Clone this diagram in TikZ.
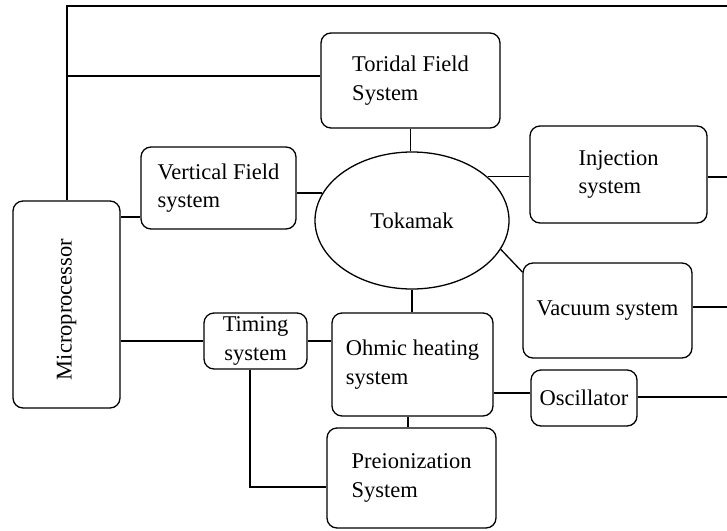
\documentclass[tikz,border=0pt]{standalone}
\usepackage{fontspec}
\setmainfont{Liberation Serif}
\usetikzlibrary{shapes.geometric}
\begin{document}
\begin{tikzpicture}[x=1pt,y=-1pt,
  line width=1.3pt,
  font=\fontsize{22.5}{28.5}\selectfont,
  box/.style={draw, rounded corners=10pt, inner sep=0pt, align=left},
  cbox/.style={draw, rounded corners=10pt, inner sep=0pt, align=center}]
\useasboundingbox (0,0) rectangle (727,530);
% boxes
\node[box, minimum width=179pt, minimum height=95pt] (tor) at (410.5,80.5) {Toridal Field\\System};
\node[box, minimum width=155pt, minimum height=82pt] (vf) at (218.5,188) {Vertical Field\\system};
\node[box, minimum width=177pt, minimum height=97pt] (inj) at (618.5,174.5) {Injection\\system};
\node[box, minimum width=169pt, minimum height=95pt] (vac) at (607.5,310.5) {Vacuum system};
\node[cbox, minimum width=103pt, minimum height=56pt] (tim) at (255.5,341) {Timing\\system};
\node[box, minimum width=161pt, minimum height=103pt] (ohm) at (412.5,364.5) {Ohmic heating\\system};
\node[box, minimum width=106pt, minimum height=56pt] (osc) at (584,398) {Oscillator};
\node[box, minimum width=169pt, minimum height=100pt] (pre) at (411.5,478) {Preionization\\System};
\node[box, minimum width=107pt, minimum height=207pt] (mic) at (66.5,304.5) {};
\node[rotate=90] (mictext) at ([yshift=-5pt]mic.center) {Microprocessor};
\node[draw, ellipse, minimum width=194pt, minimum height=137pt, inner sep=0pt] (tok) at (412,220.5) {Tokamak};
% helper coordinates
\coordinate (topL) at (67,6);
\coordinate (topR) at (727,6);
\coordinate (torJ) at (67,76);
\coordinate (vfY) at (0,217);
\coordinate (vacY) at (0,272);
\coordinate (injR) at (727,177);
\coordinate (vacR) at (727,307);
\coordinate (oscR) at (727,397);
\coordinate (ohmY) at (0,393);
\coordinate (oscY) at (0,397);
\coordinate (timB) at (250,0);
\coordinate (preY) at (0,487);
\coordinate (ohmB) at (408,0);
% connectors
\draw (mic.north -| topL) -- (topL) -- (topR);
\draw (torJ) -- (torJ -| tor.west);
\draw (vfY -| mic.east) -- (vfY -| vf.west);
\draw (vf.east |- tok.163) -- (tok.163);
\draw (tor.south) -- (tor.south |- tok.north);
\draw (tok.30) -- (tok.30 -| inj.west);
\draw (injR -| inj.east) -- (injR);
\draw (tok.-18.5) -- (vacY -| vac.west);
\draw (vacR -| vac.east) -- (vacR);
\draw (tok.south) -- (tok.south |- ohm.north);
\draw (tim.west -| mic.east) -- (tim.west);
\draw (tim.east) -- (tim.east -| ohm.west);
\draw (timB |- tim.south) -- (timB |- preY) -- (preY -| pre.west);
\draw (ohmB |- ohm.south) -- (ohmB |- pre.north);
\draw (ohmY -| ohm.east) -- (ohmY -| osc.west);
\draw (oscY -| osc.east) -- (oscR);
\end{tikzpicture}
\end{document}
